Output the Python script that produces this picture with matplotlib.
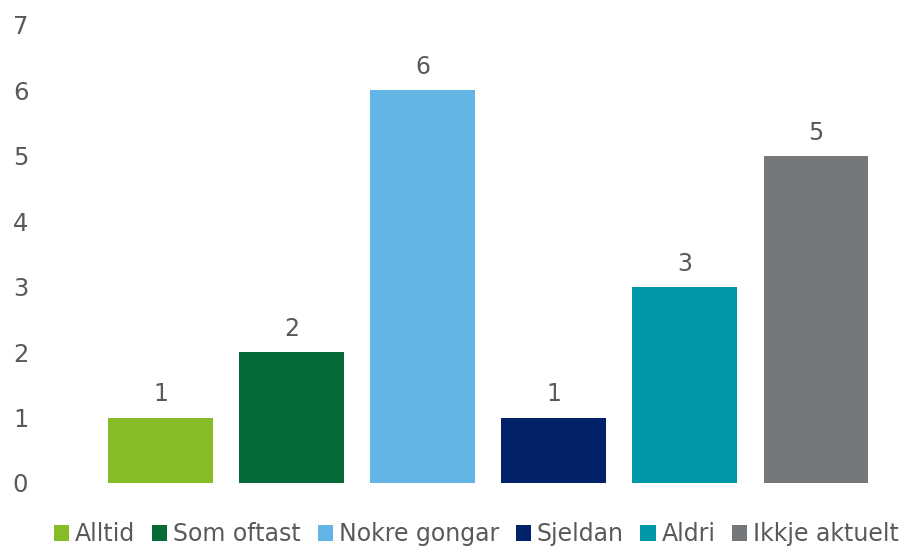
import matplotlib.pyplot as plt
from matplotlib.patches import Patch

# Data
categories = ["Alltid", "Som oftast", "Nokre gongar", "Sjeldan", "Aldri", "Ikkje aktuelt"]
values = [1, 2, 6, 1, 3, 5]
colors = ["#86BC25", "#046A38", "#62B5E5", "#012169", "#0097A9", "#75787B"]
yticks = [0, 1, 2, 3, 4, 5, 6, 7]

text_color = "#595959"
plt.rcParams['font.family'] = ['DejaVu Sans']

fig = plt.figure(figsize=(9.01, 5.46), dpi=100)
ax = fig.add_axes([95 / 901, 1 - 483 / 546, (881.5 - 95) / 901, (483 - 25) / 546])

x = range(len(categories))
bars = ax.bar(x, values, width=0.8, color=colors)
ax.bar_label(bars, labels=[str(v) for v in values], padding=8,
             fontsize=17, color=text_color)

ax.set_xlim(-0.5, len(categories) - 0.5)
ax.set_ylim(0, 7)
ax.set_yticks(yticks)
ax.set_xticks([])
ax.tick_params(axis='y', length=0, pad=48, labelsize=17.5, labelcolor=text_color)
for s in ax.spines.values():
    s.set_visible(False)

handles = [Patch(facecolor=c, edgecolor='none') for c in colors]
fig.legend(handles, categories, loc='center', bbox_to_anchor=(0.529, 1 - 534 / 546),
           ncol=6, frameon=False, fontsize=17, labelcolor=text_color,
           handlelength=0.65, handleheight=0.65, handletextpad=0.25,
           columnspacing=0.7, borderaxespad=0)

fig.savefig("out.png", dpi=100)
